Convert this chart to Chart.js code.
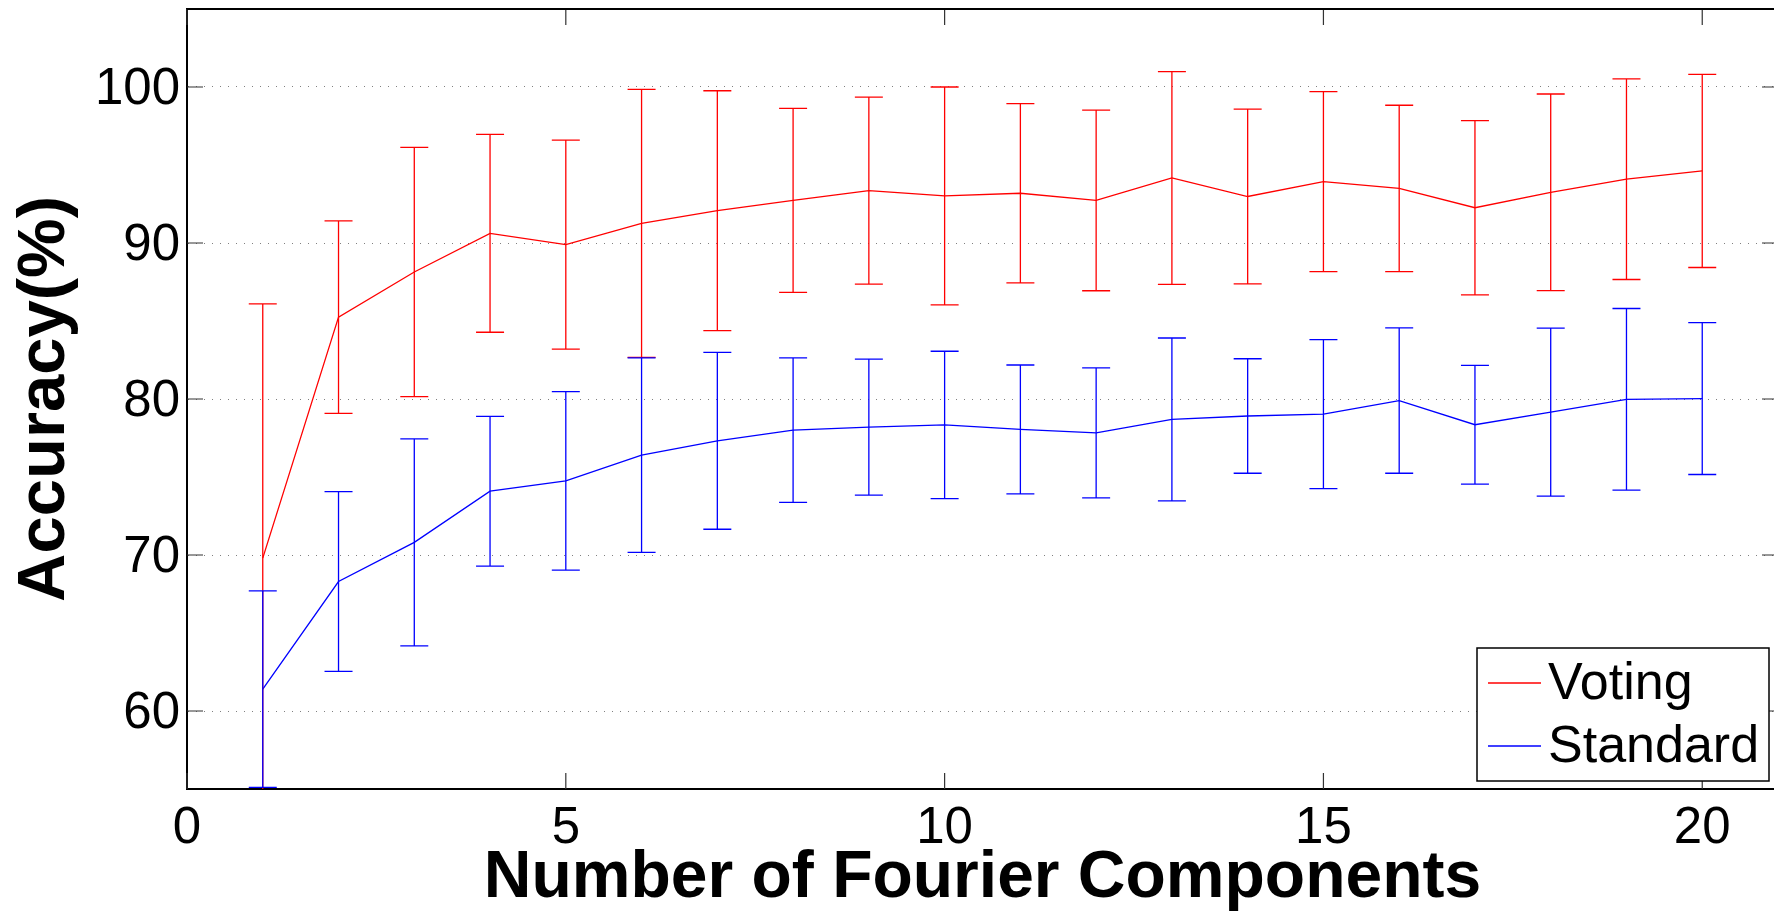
<!DOCTYPE html>
<html>
<head>
<meta charset="utf-8">
<script src="https://cdn.jsdelivr.net/npm/chart.js@4.4.0/dist/chart.umd.min.js"></script>
<style>
  html, body { margin: 0; padding: 0; background: #fff; overflow: hidden; }
  #wrap { width: 1780px; height: 914px; }
</style>
</head>
<body>
<div id="wrap"><canvas id="accChart" width="1780" height="914"></canvas></div>
<script>
// values
const components = [1, 2, 3, 4, 5, 6, 7, 8, 9, 10, 11, 12, 13, 14, 15, 16, 17, 18, 19, 20];
const votingMean = [69.8, 85.25, 88.14, 90.62, 89.9, 91.26, 92.07, 92.73, 93.36, 93.02,
                    93.19, 92.73, 94.17, 92.98, 93.93, 93.5, 92.26, 93.25, 94.09, 94.62];
const votingErr = [16.3, 6.17, 7.99, 6.34, 6.7, 8.59, 7.69, 5.9, 5.99, 6.98,
                   5.75, 5.79, 6.82, 5.6, 5.77, 5.33, 5.58, 6.3, 6.43, 6.19];
const standardMean = [61.4, 68.3, 70.81, 74.09, 74.75, 76.4, 77.32, 78.0, 78.2, 78.34,
                      78.05, 77.83, 78.69, 78.91, 79.03, 79.9, 78.35, 79.16, 79.98, 80.03];
const standardErr = [6.3, 5.76, 6.64, 4.8, 5.72, 6.23, 5.67, 4.63, 4.36, 4.72,
                     4.13, 4.17, 5.22, 3.67, 4.77, 4.66, 3.81, 5.38, 5.82, 4.87];
const xTicks = [0, 5, 10, 15, 20];
const yTicks = [60, 70, 80, 90, 100];
const seriesLabels = ['Voting', 'Standard'];
const seriesColors = ['#ff0000', '#0000ff'];

const FONT = '"Liberation Sans", Arial, Helvetica, sans-serif';

function toPoints(means) {
  return components.map((c, i) => ({ x: c, y: means[i] }));
}

// error bars, inward ticks, the top/right frame and the legend box
const matlabLook = {
  id: 'matlabLook',
  afterDatasetsDraw(chart) {
    const { ctx, chartArea: a, scales: { x, y } } = chart;
    ctx.save();
    ctx.beginPath();
    ctx.rect(a.left, a.top, a.right - a.left, a.bottom - a.top);
    ctx.clip();
    chart.data.datasets.forEach(ds => {
      ctx.strokeStyle = ds.borderColor;
      ctx.lineWidth = 1.3;
      ds.data.forEach((p, i) => {
        const px = x.getPixelForValue(p.x);
        const hi = y.getPixelForValue(p.y + ds.errors[i]);
        const lo = y.getPixelForValue(p.y - ds.errors[i]);
        ctx.beginPath();
        ctx.moveTo(px, hi); ctx.lineTo(px, lo);
        ctx.moveTo(px - 14, hi); ctx.lineTo(px + 14, hi);
        ctx.moveTo(px - 14, lo); ctx.lineTo(px + 14, lo);
        ctx.stroke();
      });
    });
    ctx.restore();
  },
  afterDraw(chart) {
    const { ctx, chartArea: a, scales: { x, y } } = chart;
    ctx.save();
    // ticks pointing into the plot
    ctx.strokeStyle = '#333';
    ctx.lineWidth = 1.2;
    ctx.beginPath();
    xTicks.forEach(v => {
      const px = x.getPixelForValue(v);
      ctx.moveTo(px, a.bottom); ctx.lineTo(px, a.bottom - 16);
      ctx.moveTo(px, a.top); ctx.lineTo(px, a.top + 16);
    });
    yTicks.forEach(v => {
      const py = y.getPixelForValue(v);
      ctx.moveTo(a.left, py); ctx.lineTo(a.left + 16, py);
      ctx.moveTo(a.right, py); ctx.lineTo(a.right - 16, py);
    });
    ctx.stroke();
    // top and right frame
    ctx.strokeStyle = '#000';
    ctx.lineWidth = 2;
    ctx.beginPath();
    ctx.moveTo(a.left, a.top); ctx.lineTo(a.right, a.top); ctx.lineTo(a.right, a.bottom);
    ctx.stroke();

    // legend in the lower right corner
    const bw = 292, bh = 133;
    const bx = a.right - 9 - bw, by = a.bottom - 8 - bh;
    ctx.fillStyle = '#fff';
    ctx.fillRect(bx, by, bw, bh);
    ctx.strokeStyle = '#000';
    ctx.lineWidth = 1.5;
    ctx.strokeRect(bx, by, bw, bh);
    ctx.font = '52px ' + FONT;
    ctx.textBaseline = 'middle';
    ctx.textAlign = 'left';
    chart.data.datasets.forEach((ds, i) => {
      const ly = by + 35 + i * 63;
      ctx.strokeStyle = ds.borderColor;
      ctx.lineWidth = 1.3;
      ctx.beginPath();
      ctx.moveTo(bx + 11, ly); ctx.lineTo(bx + 64, ly);
      ctx.stroke();
      ctx.fillStyle = '#000';
      ctx.fillText(ds.label, bx + 71, ly + 2);
    });
    ctx.restore();
  }
};

const ctx = document.getElementById('accChart').getContext('2d');

const accChart = new Chart(ctx, {
  type: 'line',
  data: {
    datasets: [
      {
        label: seriesLabels[0],
        data: toPoints(votingMean),
        errors: votingErr,
        borderColor: seriesColors[0],
        backgroundColor: seriesColors[0],
        borderWidth: 1.3,
        pointRadius: 0,
        fill: false,
        tension: 0
      },
      {
        label: seriesLabels[1],
        data: toPoints(standardMean),
        errors: standardErr,
        borderColor: seriesColors[1],
        backgroundColor: seriesColors[1],
        borderWidth: 1.3,
        pointRadius: 0,
        fill: false,
        tension: 0
      }
    ]
  },
  options: {
    responsive: false,
    animation: false,
    devicePixelRatio: 1,
    layout: { padding: { top: 9, right: 2, left: 0, bottom: 0 } },
    plugins: {
      legend: { display: false },
      tooltip: { enabled: false }
    },
    scales: {
      x: {
        type: 'linear',
        min: 0,
        max: 21,
        afterBuildTicks: axis => { axis.ticks = xTicks.map(v => ({ value: v })); },
        afterFit: axis => {
          axis.height = 125;
          axis.paddingLeft = 0; axis.paddingRight = 0;
        },
        grid: { display: false, drawTicks: false },
        border: { display: true, color: '#000', width: 2 },
        ticks: {
          autoSkip: false,
          maxRotation: 0,
          padding: 9,
          color: '#000',
          font: { family: FONT, size: 51, lineHeight: 1.2 }
        },
        title: {
          display: true,
          text: 'Number of Fourier Components',
          color: '#000',
          padding: { top: 0, bottom: 2 },
          font: { family: FONT, size: 66, weight: 'bold', lineHeight: 1 }
        }
      },
      y: {
        min: 55,
        max: 105,
        afterBuildTicks: axis => { axis.ticks = yTicks.map(v => ({ value: v })); },
        afterFit: axis => {
          axis.width = 187;
          axis.paddingTop = 0; axis.paddingBottom = 0;
        },
        grid: { display: true, drawTicks: false, color: '#808080', lineWidth: 1 },
        border: { display: true, color: '#000', width: 2, dash: [1, 7] },
        ticks: {
          padding: 7,
          labelOffset: 3,
          color: '#000',
          font: { family: FONT, size: 51, lineHeight: 1.2 }
        },
        title: {
          display: true,
          text: 'Accuracy(%)',
          color: '#000',
          padding: { top: 5, bottom: 0 },
          font: { family: FONT, size: 67, weight: 'bold', lineHeight: 1.2 }
        }
      }
    }
  },
  plugins: [matlabLook]
});
</script>
</body>
</html>
